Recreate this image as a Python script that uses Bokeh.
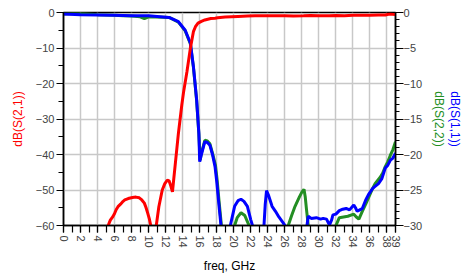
import math
from bokeh.plotting import figure
from bokeh.models import Range1d, LinearAxis, FixedTicker
from bokeh.embed import file_html
from bokeh.resources import INLINE

# ---- data ----
s21_freq = [4.9, 5.25, 5.5, 5.8, 6.0, 6.2, 6.4, 6.7, 7.0, 7.2, 7.6, 8.1, 8.5, 8.9, 9.2, 9.5, 9.7, 9.9,
            10.1, 10.25, 10.55, 10.9, 11.2, 11.6, 11.9, 12.2, 12.4, 12.6, 12.8, 13.1, 13.5, 13.9, 14.1,
            14.5, 14.9, 15.26, 15.5, 15.8, 16.2, 16.6, 17.3, 17.8, 18.1, 19.0, 20.5, 21.6, 22.5, 24.0,
            25.0, 26.0, 27.0, 28.2, 29.0, 30.0, 31.2, 32.0, 33.0, 34.0, 35.0, 36.0, 37.0, 37.8, 38.3, 39.0]
s21_db = [-75, -60, -58.5, -57.5, -56.6, -55.5, -54.7, -54.0, -53.2, -52.8, -52.4, -52.1, -52.0, -52.2,
          -52.8, -53.7, -55.0, -56.6, -58.3, -60, -72, -60, -54.7, -50.0, -48.2, -47.2, -47.4, -48.8,
          -50.5, -43.4, -34.0, -26.0, -22.5, -16.7, -10.1, -5.4, -4.0, -3.0, -2.5, -2.1, -1.7, -1.6,
          -1.5, -1.3, -1.1, -1.0, -0.95, -0.9, -0.95, -0.9, -1.0, -0.95, -0.85, -0.9, -0.9, -0.85,
          -0.9, -0.8, -0.8, -0.75, -0.7, -0.7, -0.4, -0.6]

s11_freq = [0, 2, 4, 6, 8, 10, 11, 12.4, 13.5, 14.3, 14.9, 15.26, 15.64, 15.9, 16.0, 16.2, 16.6, 16.9,
            17.2, 17.5, 17.8, 18.0, 18.2, 18.5, 19.0, 19.6, 20.1, 20.5, 20.85, 21.2, 21.6, 22.0, 22.2,
            22.9, 23.55, 23.7, 23.85, 24.1, 24.5, 24.9, 25.3, 25.85, 26.0, 27.3, 28.6, 28.75, 29.1,
            29.7, 30.2, 30.5, 30.9, 31.1, 31.25, 31.5, 31.65, 32.0, 32.4, 32.8, 33.2, 33.6, 34.1, 34.3,
            34.5, 34.8, 35.1, 35.5, 35.9, 36.3, 36.6, 37.0, 37.4, 37.8, 38.1, 38.4, 38.7, 39.0]
s11_db = [-0.2, -0.3, -0.35, -0.4, -0.45, -0.45, -0.55, -0.7, -1.3, -2.5, -4.3, -7.6, -12.3, -17.0,
          -21.0, -20.0, -18.2, -18.3, -18.7, -20.0, -21.7, -23.8, -26.4, -30, -36, -30, -27.3, -26.5,
          -26.3, -26.6, -27.3, -29.2, -30, -36, -30, -27.0, -25.1, -25.8, -27.3, -28.0, -28.8, -29.7,
          -30, -36, -30, -28.7, -29.0, -28.9, -29.1, -29.0, -29.1, -29.6, -29.9, -29.2, -28.5, -28.4,
          -27.9, -27.7, -27.6, -27.8, -27.1, -27.5, -28.0, -27.8, -27.6, -26.4, -25.5, -24.8, -24.5,
          -24.1, -23.4, -21.9, -21.5, -20.8, -20.5, -19.8]

s22_freq = [0, 2, 4, 6, 7, 8, 9, 9.5, 10, 12.4, 13.5, 14.3, 14.9, 15.26, 15.64, 15.9, 16.05, 16.2, 16.6,
            16.9, 17.2, 17.5, 17.85, 18.05, 18.25, 18.55, 19.3, 20.1, 20.4, 20.85, 21.3, 21.8, 24.0,
            26.4, 26.8, 27.2, 27.7, 28.0, 28.25, 28.4, 28.55, 28.75, 30.4, 32.0, 32.4, 32.9, 33.4, 34.1,
            34.4, 34.7, 35.1, 35.5, 35.9, 36.3, 36.6, 37.2, 37.5, 37.8, 38.1, 38.4, 38.7, 39.0]
s22_db = [-0.2, -0.1, -0.3, -0.4, -0.45, -0.5, -0.6, -0.85, -0.6, -0.7, -1.35, -2.6, -4.4, -7.7, -12.4,
          -17.1, -20.8, -19.8, -18.0, -18.1, -18.5, -19.8, -21.5, -23.6, -26.3, -30, -38, -30, -28.9,
          -28.2, -28.6, -30, -40, -30, -28.6, -27.3, -26.0, -25.3, -24.9, -26.0, -27.8, -30, -33, -30,
          -28.9, -28.8, -28.7, -28.4, -28.8, -29.1, -28.0, -27.0, -25.9, -24.8, -24.1, -23.2, -22.6,
          -21.7, -21.0, -20.1, -19.3, -18.2]

x_major_ticks = [0, 2, 4, 6, 8, 10, 12, 14, 16, 18, 20, 22, 24, 26, 28, 30, 32, 34, 36, 38, 39]
x_minor_ticks = list(range(0, 40))
x_grid_ticks = [2, 4, 6, 8, 10, 12, 14, 16, 18, 20, 22, 24, 26, 28, 30, 32, 34, 36, 38]
left_major_ticks = [-60, -50, -40, -30, -20, -10, 0]
left_minor_ticks = [-55, -45, -35, -25, -15, -5]
right_major_ticks = [-30, -25, -20, -15, -10, -5, 0]
right_minor_ticks = list(range(-30, 1))

RED = "#ff0000"
BLUE = "#0000ff"
GREEN = "#238e23"
FONT = "Liberation Sans"

p = figure(width=464, height=277, x_range=Range1d(0, 39), y_range=Range1d(-60, 0),
           output_backend="svg", toolbar_location=None,
           min_border_left=63, min_border_right=64, min_border_top=12, min_border_bottom=52)
p.extra_y_ranges = {"r": Range1d(-30, 0)}
p.background_fill_color = "white"
p.border_fill_color = "white"
p.outline_line_color = "black"
p.outline_line_width = 1.5

# grids
p.xgrid.ticker = FixedTicker(ticks=x_grid_ticks)
p.ygrid.ticker = FixedTicker(ticks=[-50, -40, -30, -20, -10])
for g in (p.xgrid[0], p.ygrid[0]):
    g.grid_line_color = "#c8c8c8"
    g.grid_line_width = 1.5

# bottom axis
xa = p.xaxis[0]
xa.ticker = FixedTicker(ticks=x_major_ticks, minor_ticks=x_minor_ticks)
xa.major_label_orientation = -math.pi / 2
xa.axis_label = "freq, GHz"
xa.axis_label_text_font = FONT
xa.axis_label_text_font_size = "12px"
xa.axis_label_text_font_style = "normal"
xa.axis_label_text_color = "black"
xa.axis_label_standoff = 8
xa.major_label_text_font = FONT
xa.major_label_text_font_size = "11px"
xa.major_label_standoff = 3
xa.major_tick_out = 7
xa.major_tick_in = 0
xa.minor_tick_out = 7
xa.minor_tick_in = 0
xa.axis_line_width = 1.5
xa.major_tick_line_width = 1.2
xa.minor_tick_line_width = 1.2

# left axis
ya = p.yaxis[0]
ya.ticker = FixedTicker(ticks=left_major_ticks, minor_ticks=left_minor_ticks)
ya.axis_label = "dB(S(2,1))"
ya.axis_label_text_color = RED
ya.axis_label_text_font = FONT
ya.axis_label_text_font_size = "12px"
ya.axis_label_text_font_style = "normal"
ya.axis_label_standoff = 8
ya.major_label_text_font = FONT
ya.major_label_text_font_size = "11px"
ya.major_label_standoff = 2
ya.major_tick_out = 7
ya.major_tick_in = 0
ya.minor_tick_out = 5
ya.minor_tick_in = 0
ya.axis_line_width = 1.5
ya.major_tick_line_width = 1.2
ya.minor_tick_line_width = 1.2

# right axis (ticks + green label)
ra = LinearAxis(y_range_name="r",
                ticker=FixedTicker(ticks=right_major_ticks, minor_ticks=right_minor_ticks))
ra.axis_label = "dB(S(2,2))"
ra.axis_label_text_color = GREEN
ra.axis_label_text_font = FONT
ra.axis_label_text_font_size = "12px"
ra.axis_label_text_font_style = "normal"
ra.axis_label_standoff = 7
ra.major_label_text_font = FONT
ra.major_label_text_font_size = "11px"
ra.major_label_standoff = 0
ra.major_tick_out = 8
ra.major_tick_in = 0
ra.minor_tick_out = 4
ra.minor_tick_in = 0
ra.axis_line_width = 1.5
ra.major_tick_line_width = 1.2
ra.minor_tick_line_width = 1.2
p.add_layout(ra, "right")

# second right axis: only the blue label
ra2 = LinearAxis(y_range_name="r", ticker=FixedTicker(ticks=[]))
ra2.axis_label = "dB(S(1,1))"
ra2.axis_label_text_color = BLUE
ra2.axis_label_text_font = FONT
ra2.axis_label_text_font_size = "12px"
ra2.axis_label_text_font_style = "normal"
ra2.axis_label_standoff = -2
ra2.axis_line_color = None
ra2.major_tick_line_color = None
ra2.minor_tick_line_color = None
ra2.major_tick_out = 0
ra2.minor_tick_out = 0
ra2.major_label_standoff = 0
p.add_layout(ra2, "right")

# curves
p.line(s22_freq, s22_db, line_color=GREEN, line_width=3, y_range_name="r")
p.line(s11_freq, s11_db, line_color=BLUE, line_width=3, y_range_name="r")
p.line(s21_freq, s21_db, line_color=RED, line_width=3)

open("out.html", "w").write(file_html(p, INLINE))
